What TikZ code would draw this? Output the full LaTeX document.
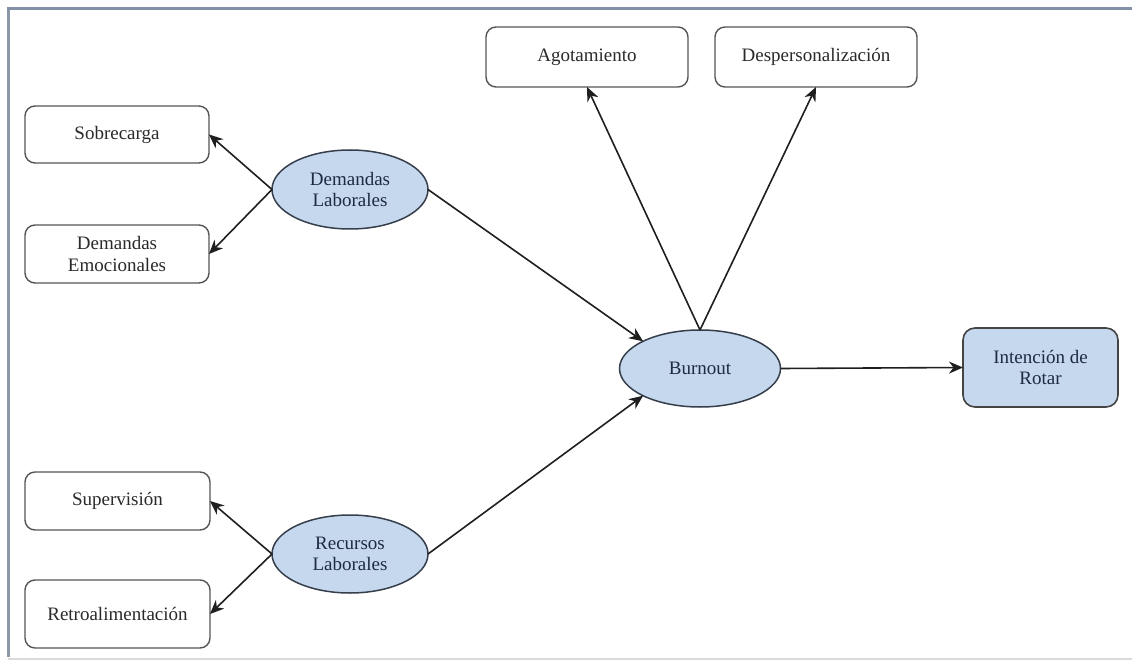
\documentclass[tikz,border=0pt]{standalone}
\usepackage{fontspec}
\setmainfont{Liberation Serif}
\usetikzlibrary{arrows.meta,shapes.geometric}
\definecolor{ellfill}{HTML}{C6D8EE}
\definecolor{ellline}{HTML}{353E4A}
\definecolor{elltext}{HTML}{1E2B42}
\definecolor{boxline}{HTML}{555555}
\definecolor{boxtext}{HTML}{2A2A2A}
\definecolor{frametop}{HTML}{8391A8}
\definecolor{frameleft}{HTML}{8C97A8}
\definecolor{framebot}{HTML}{DADADA}
\tikzset{
  base/.style={font=\fontsize{19}{21.5}\selectfont, align=center, inner sep=0pt, outer sep=0pt},
  obox/.style={base, draw=boxline, line width=1.4pt, rounded corners=10pt, fill=white, text=boxtext},
  lat/.style={base, ellipse, draw=ellline, line width=1.5pt, fill=ellfill, text=elltext},
  tbox/.style={base, draw=boxline!80!black, line width=1.6pt, rounded corners=12pt, fill=ellfill, text=elltext},
  arr/.style={draw=black!88, line width=1.6pt, -{Stealth[length=14pt,width=12pt,inset=4.5pt]}}
}
\begin{document}
\begin{tikzpicture}[x=1pt,y=-1pt]
\useasboundingbox (0,0) rectangle (1132,660);
\fill[white] (0,0) rectangle (1132,660);
% frame
\draw[framebot, line width=2pt] (8,658.5) -- (1132,658.5);
\draw[frameleft, line width=3pt] (8.5,7) -- (8.5,657);
\draw[frametop, line width=3pt] (7,8.5) -- (1132,8.5);
% nodes
\node[obox, minimum width=184pt, minimum height=57pt] (sob) at (117,134.5) {Sobrecarga};
\node[obox, minimum width=184pt, minimum height=58pt] (emo) at (117,254) {Demandas\\Emocionales};
\node[obox, minimum width=185pt, minimum height=58pt] (sup) at (117.5,501) {Supervisión};
\node[obox, minimum width=185pt, minimum height=68pt] (ret) at (117.5,614) {Retroalimentación};
\node[obox, minimum width=202pt, minimum height=60pt] (ago) at (587,57) {Agotamiento};
\node[obox, minimum width=202pt, minimum height=60pt] (des) at (816,57) {Despersonalización};
\node[lat, minimum width=156pt, minimum height=79pt] (dl) at (350,189.5) {Demandas\\Laborales};
\node[lat, minimum width=156pt, minimum height=78pt] (rl) at (350,554) {Recursos\\Laborales};
\node[lat, minimum width=161pt, minimum height=77pt] (bo) at (700,368.5) {Burnout};
\node[tbox, minimum width=155pt, minimum height=79pt] (int) at (1040.5,367.5) {Intención de\\Rotar};
% connectors
\draw[arr] (dl.west) -- (sob.east);
\draw[arr] (dl.west) -- (emo.east);
\draw[arr] (rl.west) -- (sup.east);
\draw[arr] (rl.west) -- (ret.east);
\draw[arr] (dl.east) -- (bo.north west);
\draw[arr] (rl.east) -- (bo.south west);
\draw[arr] (bo.north) -- (ago.south);
\draw[arr] (bo.north) -- (des.south);
\draw[arr] (bo.east) -- (int.west);
\end{tikzpicture}
\end{document}
